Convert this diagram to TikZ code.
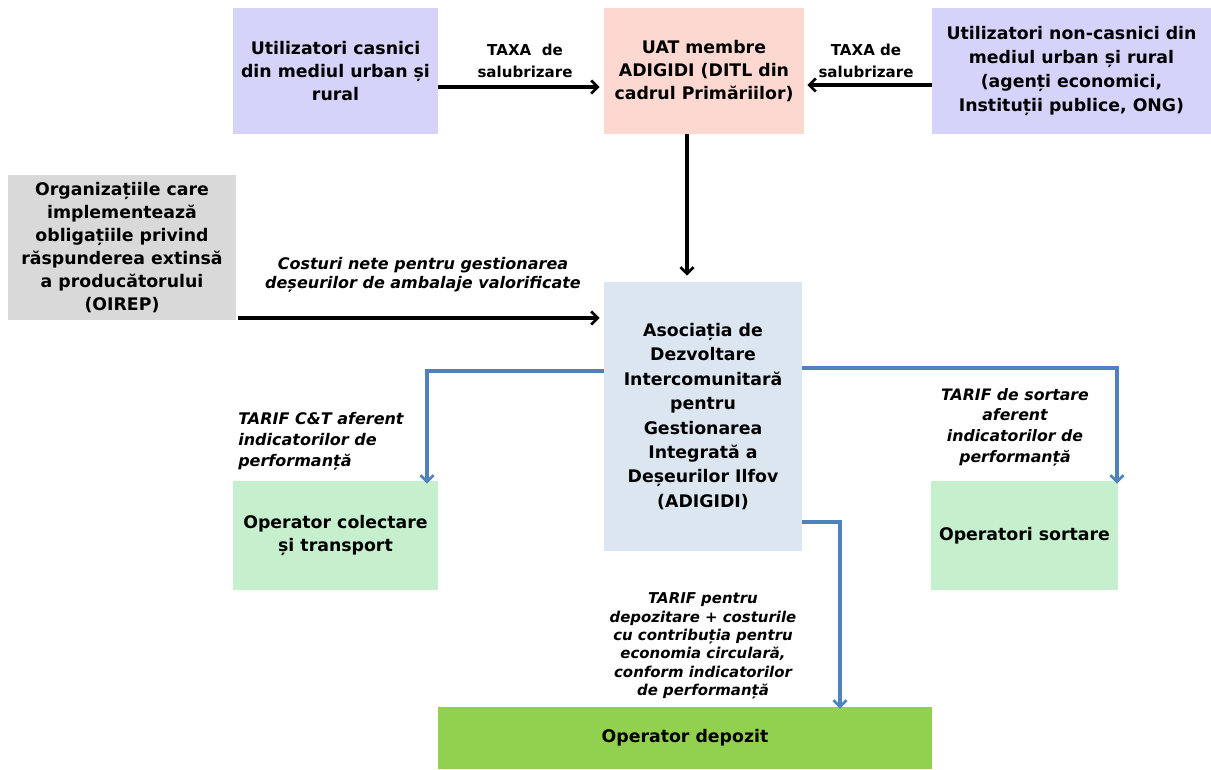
\documentclass[tikz,border=0pt]{standalone}
\usepackage{fontspec}
\setmainfont{DejaVu Sans}
\usetikzlibrary{arrows.meta}
\definecolor{lavanda}{RGB}{213,211,250}
\definecolor{somon}{RGB}{252,216,208}
\definecolor{gri}{RGB}{217,217,217}
\definecolor{bleu}{RGB}{220,230,241}
\definecolor{verdedeschis}{RGB}{198,239,206}
\definecolor{verde}{RGB}{146,208,80}
\definecolor{albastru}{RGB}{79,129,189}
\newcommand{\px}{0.75pt}
\tikzset{
	box/.style={draw=none, inner sep=0pt, align=center, font=\fontsize{13}{17.3}\selectfont\bfseries},
	lbl/.style={inner sep=0pt, align=center, font=\fontsize{11.3}{16.5}\selectfont\bfseries},
	flux/.style={line width=2.6pt, -{Straight Barb[length=5pt,width=10pt,line width=2pt]}},
	tarif/.style={line width=2.3pt, albastru, -{Straight Barb[length=5pt,width=10pt,line width=2pt]}}
}
\begin{document}
\begin{tikzpicture}[x=\px, y=-\px]
				\useasboundingbox (0,0) rectangle (1211,770);
				% casute
				\node[box, fill=lavanda, minimum width=205*\px, minimum height=126*\px] (casnici) at (335.5,71) {Utilizatori casnici\\din mediul urban și\\rural};
				\node[box, fill=somon, minimum width=200*\px, minimum height=126*\px] (uat) at (704,71) {UAT membre\\ADIGIDI (DITL din\\cadrul Primăriilor)};
				\node[box, fill=lavanda, minimum width=279*\px, minimum height=126*\px, font=\fontsize{13}{17.8}\selectfont\bfseries] (noncasnici) at (1071.5,71) {Utilizatori non-casnici din\\mediul urban și rural\\(agenți economici,\\Instituții publice, ONG)};
				\node[box, fill=gri, minimum width=228*\px, minimum height=145*\px] (oirep) at (122,247.5) {Organizațiile care\\implementează\\obligațiile privind\\răspunderea extinsă\\a producătorului\\(OIREP)};
				\node[box, fill=bleu, minimum width=198*\px, minimum height=269*\px, font=\fontsize{13}{18.3}\selectfont\bfseries] (adigidi) at (703,416.5) {Asociația de\\Dezvoltare\\Intercomunitară\\pentru\\Gestionarea\\Integrată a\\Deșeurilor Ilfov\\(ADIGIDI)};
				\node[box, fill=verdedeschis, minimum width=205*\px, minimum height=109*\px] (colectare) at (335.5,535.5) {Operator colectare\\și transport};
				\node[box, fill=verdedeschis, minimum width=187*\px, minimum height=109*\px] (sortare) at (1024.5,535.5) {Operatori sortare};
				\node[box, fill=verde, minimum width=494*\px, minimum height=62*\px] (depozit) at (685,738) {Operator depozit};
				% sageti negre
				\draw[flux] (casnici.east |- 0,87) -- ([xshift=-4*\px]uat.west |- 0,87);
				\draw[flux] (noncasnici.west |- 0,85) -- ([xshift=3*\px]uat.east |- 0,85);
				\draw[flux] (uat.south -| 687,0) -- ([yshift=6*\px]adigidi.north -| 687,0);
				\draw[flux] ([xshift=2*\px]oirep.east |- 0,318) -- ([xshift=-4*\px]adigidi.west |- 0,318);
				\node[lbl] (taxa1) at (525,61) {TAXA\ \ de\\salubrizare};
				\node[lbl] (taxa2) at (866,61) {TAXA de\\salubrizare};
				\node[lbl, font=\fontsize{12}{14.5}\selectfont\bfseries\itshape] (costuri) at (423,275) {Costuri nete pentru gestionarea\\deșeurilor de ambalaje valorificate};
				% sageti albastre
				\draw[tarif] (adigidi.west |- 0,371) -- (427,371) -- ([yshift=-3*\px]colectare.north -| 427,0);
				\draw[tarif] (adigidi.east |- 0,368) -- (1117,368) -- ([yshift=-3*\px]sortare.north -| 1117,0);
				\draw[tarif] (adigidi.east |- 0,522) -- (840,522) -- ([yshift=-2*\px]depozit.north -| 840,0);
				\node[lbl, align=left, anchor=west, font=\fontsize{12}{15.8}\selectfont\bfseries\itshape] (tarifct) at (238,441) {TARIF C\&T aferent\\indicatorilor de\\performanță};
				\node[lbl, font=\fontsize{11.8}{15.5}\selectfont\bfseries\itshape] (tarifsort) at (1015,427) {TARIF de sortare\\aferent\\indicatorilor de\\performanță};
				\node[lbl, font=\fontsize{11.2}{13.8}\selectfont\bfseries\itshape] (tarifdep) at (703,646) {TARIF pentru\\depozitare + costurile\\cu contribuția pentru\\economia circulară,\\conform indicatorilor\\de performanță};
			\end{tikzpicture}
\end{document}
